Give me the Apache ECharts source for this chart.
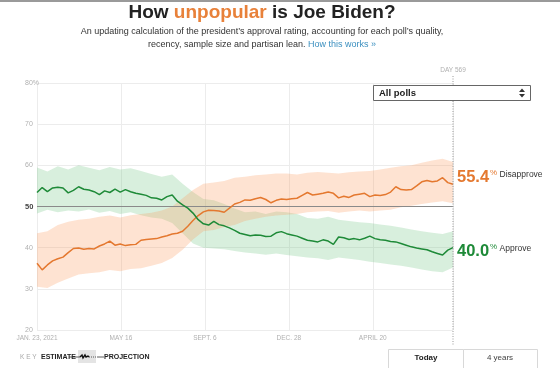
<!DOCTYPE html>
<html><head><meta charset="utf-8">
<script src="https://cdn.jsdelivr.net/npm/echarts@6/dist/echarts.min.js"></script>
<style>html,body{margin:0;padding:0;background:#fff}#c{width:560px;height:368px}</style>
</head><body><div id="c"></div>
<script>
// days since Jan 23, 2021
const lineDays = [0,7,14,21,28,35,42,49,56,63,70,77,84,91,98,105,112,119,126,133,140,147,154,161,168,175,182,189,196,203,210,217,224,231,238,245,252,259,266,273,280,287,294,301,308,315,322,329,336,343,350,357,364,371,378,385,392,399,406,413,420,427,434,441,448,455,462,469,476,483,490,497,504,511,518,525,532,539,546,553,560];
const approve = [53.4,54.6,53.6,54.5,54.7,54.5,53.3,53.9,54.8,54.2,54.0,53.6,52.9,53.8,53.4,54.2,53.5,54.1,53.6,53.2,53.0,52.7,52.1,52.0,51.6,52.4,52.8,51.3,50.4,49.6,48.4,46.8,45.8,45.5,46.4,45.6,45.3,44.8,44.2,43.5,43.2,42.9,43.1,43.0,42.7,42.8,43.6,43.9,43.4,43.1,42.8,42.3,41.8,41.6,41.4,41.9,41.6,40.8,42.6,42.4,42.0,42.2,41.9,42.3,42.8,42.2,41.9,41.8,41.5,41.4,41.0,40.6,40.2,39.9,39.7,39.5,39.0,38.6,38.2,39.4,40.0];
const disapprove = [36.2,34.6,35.8,36.8,37.3,37.7,38.8,39.8,39.9,39.6,39.8,39.7,40.4,40.9,41.6,40.6,40.9,40.5,40.7,40.8,41.8,42.0,42.1,42.2,42.6,42.9,43.3,43.5,44.0,45.2,46.6,47.8,48.7,49.1,49.0,48.9,48.6,49.6,50.6,51.0,51.6,51.5,51.9,52.2,51.7,50.9,51.5,51.8,51.7,51.9,52.0,52.7,53.4,52.8,53.0,53.2,53.5,53.2,52.1,52.5,52.2,52.8,53.0,53.2,52.4,52.8,52.7,52.9,53.5,54.8,54.1,54.0,54.1,55.0,56.0,56.3,56.0,56.2,57.0,55.8,55.4];
const bandDays = [0,14,28,42,56,70,84,98,112,126,140,154,168,182,196,210,224,238,252,266,280,294,308,322,336,350,364,378,392,406,420,434,448,462,476,490,504,518,532,546,560];
const approveHigh = [59.5,58.5,59.8,59.0,60.0,59.4,58.8,59.6,59.0,59.3,58.6,57.9,57.2,57.8,55.5,53.5,51.8,51.5,50.6,49.5,48.6,48.8,48.2,48.8,48.6,48.2,47.2,47.0,47.5,46.8,46.5,46.2,46.0,45.6,45.3,44.9,44.4,44.0,43.6,43.3,44.0];
const approveLow = [48.3,49.2,48.6,49.0,48.8,49.3,48.5,48.9,48.2,48.6,47.9,47.3,47.0,46.0,43.5,41.0,40.0,39.8,39.6,39.2,38.8,38.6,38.3,38.6,38.2,37.9,37.6,37.4,37.0,37.6,37.3,37.0,36.6,36.3,35.9,35.6,35.2,34.7,34.3,34.0,35.2];
const disapproveHigh = [43.5,44.0,45.5,46.3,46.8,47.0,47.5,47.8,47.3,47.9,48.2,48.5,49.0,50.0,52.0,54.0,55.5,55.8,56.2,57.0,57.2,57.6,57.8,58.0,58.0,57.8,58.2,58.4,58.2,58.0,58.3,58.5,58.6,59.0,59.4,59.8,60.0,60.6,61.2,61.6,60.8];
const disapproveLow = [30.5,30.2,31.5,32.5,33.5,33.8,34.0,34.6,34.3,34.8,35.0,35.6,36.3,37.5,39.5,42.0,44.0,44.3,45.0,45.5,46.5,47.0,47.5,47.8,48.0,48.2,48.6,48.8,48.9,48.5,48.8,49.0,48.8,49.0,49.2,49.8,50.2,50.6,51.0,51.3,50.8];
const xTickLabels = ['JAN. 23, 2021','MAY 16','SEPT. 6','DEC. 28','APRIL 20'];
const yTicks = [20,30,40,50,60,70,80];

const ORANGE = '#e4782f', GREEN = '#1e8a38';
const FONT = "'Liberation Sans', Arial, sans-serif";
const pairs = (xs, ys) => xs.map((d, i) => [d, ys[i]]);
const lastA = approve[approve.length - 1], lastD = disapprove[disapprove.length - 1];

// one polygon per band, built with the axis scales (api.coord)
function bandSeries(lo, hi, color) {
  return {
    type: 'custom', silent: true, clip: true, z: 1,
    data: bandDays.map((d, i) => [d, lo[i], hi[i]]),
    encode: {x: 0, y: [1, 2]},
    renderItem: (params, api) => {
      if (params.dataIndex !== 0) return null;
      const top = bandDays.map((d, i) => api.coord([d, hi[i]]));
      const bot = bandDays.map((d, i) => api.coord([d, lo[i]])).reverse();
      return {type: 'polygon', shape: {points: top.concat(bot)}, style: {fill: color}};
    }
  };
}

const chart = echarts.init(document.getElementById('c'), null, {renderer: 'canvas'});
const option = {
  animation: false,
  textStyle: {fontFamily: FONT},
  grid: {left: 37, right: 107, top: 83, bottom: 38},
  xAxis: {
    type: 'value', min: 0, max: 560, interval: 113,
    axisLine: {show: false}, axisTick: {show: false},
    splitLine: {show: true, lineStyle: {color: '#ececec', width: 1}},
    axisLabel: {color: '#b0b0b0', fontSize: 6.5, margin: 5,
      formatter: v => xTickLabels[Math.round(v / 113)] || '', showMaxLabel: false}
  },
  yAxis: {
    type: 'value', min: 20, max: 80, interval: 10,
    axisLine: {show: false}, axisTick: {show: false},
    splitLine: {lineStyle: {color: '#ececec', width: 1}},
    axisLabel: {color: '#b0b0b0', fontSize: 7, margin: 12, align: 'left',
      formatter: v => v === 80 ? '{n|80%}' : (v === 50 ? '{b|50}' : '{n|' + v + '}'),
      rich: {n: {color: '#b0b0b0', fontSize: 7}, b: {color: '#444', fontSize: 7.5, fontWeight: 'bold'}}}
  },
  series: [
    bandSeries(approveLow, approveHigh, 'rgba(110,195,130,0.27)'),
    bandSeries(disapproveLow, disapproveHigh, 'rgba(250,155,95,0.28)'),
    {type: 'line', name: 'Disapprove', data: pairs(lineDays, disapprove), symbol: 'none', z: 5,
      lineStyle: {color: ORANGE, width: 1.5},
      markLine: {silent: true, symbol: 'none', label: {show: false},
        lineStyle: {color: '#8a8a8a', width: 1, type: 'solid'}, data: [{yAxis: 50}]},
      endLabel: {show: true, offset: [-4, -7],
        formatter: () => '{v|' + lastD.toFixed(1) + '}{p|%}{t| Disapprove}',
        rich: {v: {fontSize: 16.5, fontWeight: 'bold', color: ORANGE, fontFamily: FONT},
               p: {fontSize: 8, color: ORANGE, verticalAlign: 'top', padding: [0, 0, 8, 1]},
               t: {fontSize: 8.5, color: '#333', padding: [0, 0, 6, 0]}}}},
    {type: 'line', name: 'Approve', data: pairs(lineDays, approve), symbol: 'none', z: 5,
      lineStyle: {color: GREEN, width: 1.5},
      endLabel: {show: true, offset: [-4, 4],
        formatter: () => '{v|' + lastA.toFixed(1) + '}{p|%}{t| Approve}',
        rich: {v: {fontSize: 16.5, fontWeight: 'bold', color: GREEN, fontFamily: FONT},
               p: {fontSize: 8, color: GREEN, verticalAlign: 'top', padding: [0, 0, 8, 1]},
               t: {fontSize: 8.5, color: '#333', padding: [0, 0, 6, 0]}}}}
  ],
  graphic: [
    {type: 'rect', shape: {x: 0, y: 0, width: 560, height: 2}, style: {fill: '#9a9a9a'}},
    {type: 'text', x: 262, y: 3, style: {
      text: 'How {o|unpopular} is Joe Biden?', font: "bold 19px " + FONT, fill: '#222', textAlign: 'center',
      rich: {o: {fill: '#e8813a', font: "bold 19px " + FONT}}}},
    {type: 'text', x: 262, y: 27, style: {
      text: "An updating calculation of the president’s approval rating, accounting for each poll’s quality,",
      font: "9px " + FONT, fill: '#333', textAlign: 'center'}},
    {type: 'text', x: 262, y: 40, style: {
      text: 'recency, sample size and partisan lean. {l|How this works »}', textAlign: 'center',
      font: "9px " + FONT, fill: '#333', rich: {l: {fill: '#3b8fbf', font: "9px " + FONT}}}},
    // dropdown
    {type: 'rect', z: 100, shape: {x: 373.5, y: 85.5, width: 157, height: 15}, style: {fill: '#fff', stroke: '#666', lineWidth: 1}},
    {type: 'text', z: 101, x: 379, y: 93, style: {text: 'All polls', font: "bold 9.5px " + FONT, fill: '#222', textVerticalAlign: 'middle'}},
    {type: 'polygon', z: 101, shape: {points: [[519, 92], [522, 88.5], [525, 92]]}, style: {fill: '#333'}},
    {type: 'polygon', z: 101, shape: {points: [[519, 94], [522, 97.5], [525, 94]]}, style: {fill: '#333'}},
    // key
    {type: 'text', x: 20, y: 357, style: {text: 'K E Y', font: "6.5px " + FONT, fill: '#aaa', textVerticalAlign: 'middle'}},
    {type: 'text', x: 41, y: 357, style: {text: 'ESTIMATE', font: "bold 7px " + FONT, fill: '#222', textVerticalAlign: 'middle'}},
    {type: 'rect', shape: {x: 78, y: 350, width: 18, height: 13}, style: {fill: '#e4e4e4'}},
    {type: 'line', shape: {x1: 69, y1: 357, x2: 80, y2: 357}, style: {stroke: '#333', lineWidth: 0.8}},
    {type: 'polyline', shape: {points: [[80, 357], [82, 355], [83, 358], [85, 355], [86, 357], [88, 356], [89, 357]]}, style: {stroke: '#111', lineWidth: 1.4, fill: null}},
    {type: 'line', shape: {x1: 89, y1: 357, x2: 97, y2: 357}, style: {stroke: '#333', lineWidth: 0.8, lineDash: [1, 1]}},
    {type: 'line', shape: {x1: 97, y1: 357, x2: 104, y2: 357}, style: {stroke: '#333', lineWidth: 0.8}},
    {type: 'text', x: 104, y: 357, style: {text: 'PROJECTION', font: "bold 7px " + FONT, fill: '#222', textVerticalAlign: 'middle'}},
    // buttons
    {type: 'rect', shape: {x: 388.5, y: 349.5, width: 75, height: 25}, style: {fill: '#fff', stroke: '#d8d8d8', lineWidth: 1}},
    {type: 'rect', shape: {x: 463.5, y: 349.5, width: 74, height: 25}, style: {fill: '#fff', stroke: '#d8d8d8', lineWidth: 1}},
    {type: 'text', x: 426, y: 358, style: {text: 'Today', font: "bold 8px " + FONT, fill: '#222', textAlign: 'center', textVerticalAlign: 'middle'}},
    {type: 'text', x: 500, y: 358, style: {text: '4 years', font: "8px " + FONT, fill: '#444', textAlign: 'center', textVerticalAlign: 'middle'}}
  ]
};
chart.setOption(option);
// "DAY 569" marker at the end of the x axis
const px = chart.convertToPixel({gridIndex: 0}, [560, 50])[0];
chart.setOption({graphic: option.graphic.concat([
  {type: 'line', shape: {x1: px, y1: 76, x2: px, y2: 345}, style: {stroke: '#999', lineWidth: 1, lineDash: [1, 1.5]}, z: 10},
  {type: 'text', x: px, y: 70, style: {text: 'DAY 569', font: "6.5px " + FONT, fill: '#b0b0b0', textAlign: 'center', textVerticalAlign: 'middle'}}
])});
</script></body></html>
